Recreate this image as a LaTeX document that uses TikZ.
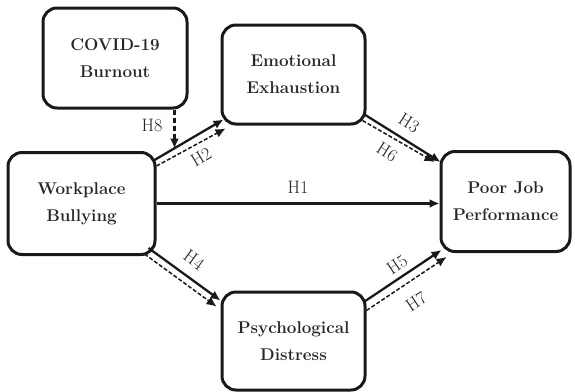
\documentclass[tikz,border=0pt]{standalone}
\usetikzlibrary{arrows.meta}
\begin{document}
\begin{tikzpicture}[x=1pt,y=-1pt,
  box/.style={draw=black!90, line width=3pt, rounded corners=14pt, align=center,
    font=\fontsize{17}{27}\selectfont\bfseries, inner sep=0pt, text=black!85},
  solidarr/.style={line width=2.3pt, -{Latex[length=10pt,width=9pt]}, black!90},
  dasharr/.style={line width=1.5pt, dash pattern=on 4pt off 2pt, -{Latex[length=10pt,width=9pt]}, black!90},
  hlab/.style={font=\fontsize{18}{20}\selectfont, inner sep=0pt, text=black!85}]
\useasboundingbox (0,0) rectangle (575,391);
% boxes
\node[box, minimum width=144pt, minimum height=100pt] (cb) at (115,58) {COVID-19\\Burnout};
\node[box, minimum width=143pt, minimum height=99pt] (ee) at (293.5,74.5) {Emotional\\Exhaustion};
\node[box, minimum width=147pt, minimum height=102pt] (wb) at (81.5,203.5) {Workplace\\Bullying};
\node[box, minimum width=129pt, minimum height=100pt] (pj) at (505.5,201.5) {Poor Job\\Performance};
\node[box, minimum width=143pt, minimum height=98pt] (pd) at (293.5,341) {Psychological\\Distress};
% H1
\draw[solidarr] (wb.east) -- (wb.east -| pj.west);
% H2
\draw[solidarr] ([shift={(-2,9)}]wb.north east) -- ([shift={(3,-6)}]ee.south west);
\draw[dasharr] ([shift={(0,15)}]wb.north east) -- ([shift={(5,3)}]ee.south west);
% H8
\draw[dasharr, line width=2.2pt, dash pattern=on 5pt off 3pt] ([xshift=-14pt]cb.south east) -- ([shift={(-14,39)}]cb.south east);
% H3 / H6
\draw[solidarr] ([shift={(-2,-11)}]ee.south east) -- ([shift={(1,12)}]pj.north west);
\draw[dasharr] ([shift={(-4,-5)}]ee.south east) -- ([shift={(-5,12)}]pj.north west);
% H4
\draw[solidarr] ([shift={(-8,-8)}]wb.south east) -- ([shift={(0,10)}]pd.north west);
\draw[dasharr] ([shift={(-12,-2)}]wb.south east) -- ([shift={(-4,16)}]pd.north west);
% H5 / H7
\draw[solidarr] ([shift={(-2,11)}]pd.north east) -- ([shift={(2,-3)}]pj.south west);
\draw[dasharr] ([shift={(0,20)}]pd.north east) -- ([shift={(7,4)}]pj.south west);
% labels
\node[hlab] (l1) at (298,187) {H1};
\node[hlab] (l8) at (152,125) {H8};
\node[hlab, rotate=31] (l2) at (201,157) {H2};
\node[hlab, rotate=-32] (l3) at (409,123) {H3};
\node[hlab, rotate=-32] (l6) at (387,152) {H6};
\node[hlab, rotate=-36] (l4) at (194,260) {H4};
\node[hlab, rotate=34] (l5) at (397,265) {H5};
\node[hlab, rotate=34] (l7) at (416,302) {H7};
\end{tikzpicture}
\end{document}
